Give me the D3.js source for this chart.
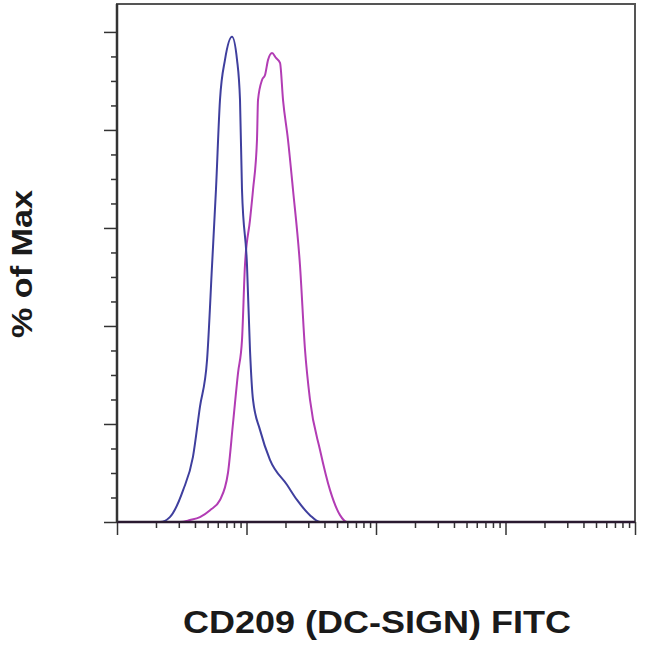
<!DOCTYPE html>
<html>
<head>
<meta charset="utf-8">
<script src="https://cdn.jsdelivr.net/npm/d3@7"></script>
<style>
  body { margin: 0; background: #fff; }
  svg { display: block; font-family: "Liberation Sans", Arial, sans-serif; }
</style>
</head>
<body>
<script>
// isotype control (blue) and CD209 stain (magenta), FITC intensity vs % of max
const isoIntensity = [10, 18, 21.5, 25.6, 32.4, 38.6, 43.7, 49.6, 54.2, 58.1, 62.4, 68.2, 77.3, 84.5, 89.1, 92.3, 100.9, 106.4, 112.3, 127.1, 151.8, 205.4, 245.5, 309, 369.6, 482, 100000];
const isoPct       = [0, 0, 0, 1.0, 6.5, 13.3, 23.5, 33.1, 52.4, 67.8, 86.1, 94.3, 99, 94.3, 86.1, 67.8, 52.4, 35.1, 24.9, 18.8, 12.7, 7.6, 4.5, 1.4, 0, 0, 0];

const stainIntensity = [10, 30.6, 36.6, 43.7, 52.3, 62.4, 71.9, 78.7, 86, 92.3, 97.3, 106.4, 112.3, 120.5, 122.7, 131.8, 139, 146.7, 157.4, 169, 181.5, 191.5, 209.1, 228.6, 258.8, 283.1, 309.4, 369.6, 441.6, 527.5, 597, 751, 100000];
const stainPct       = [0, 0, 0.4, 1.0, 2.4, 4.5, 10, 20.2, 30.4, 37.1, 52.4, 61.6, 67.8, 78, 86.1, 90.2, 91.2, 94.3, 95.7, 94.7, 93.7, 86.1, 78, 67.8, 52.4, 35.1, 24.9, 14.7, 6.5, 1.4, 0, 0, 0];

const xMajor = [10, 100, 1000, 10000, 100000];
const yMajor = [0, 20, 40, 60, 80, 100];

const xLabel = "CD209 (DC-SIGN) FITC";
const yLabel = "% of Max";

const W = 650, H = 650;
const plotL = 117, plotR = 635, plotT = 4, plotB = 522;

const svg = d3.select("body").append("svg").attr("width", W).attr("height", H);

const x = d3.scaleLog().domain([10, 100000]).range([plotL, plotR]);
const y = d3.scaleLinear().domain([0, 105.7]).range([plotB, plotT]);

// frame
svg.append("rect")
	.attr("x", plotL).attr("y", plotT)
	.attr("width", plotR - plotL).attr("height", plotB - plotT)
	.attr("fill", "none").attr("stroke", "#555").attr("stroke-width", 2);

// x axis: minor + major ticks
const xMinor = x.ticks().filter((t) => !xMajor.includes(t));
svg.append("g")
	.attr("transform", "translate(0," + plotB + ")")
	.call(d3.axisBottom(x).tickValues(xMinor).tickSize(6).tickFormat(""))
	.call((g) => g.select(".domain").remove());
svg.append("g")
	.attr("transform", "translate(0," + plotB + ")")
	.call(d3.axisBottom(x).tickValues(xMajor).tickSize(13).tickFormat(""))
	.call((g) => g.select(".domain").remove());

// y axis
const yMinor = d3.range(0, 101, 5).filter((t) => !yMajor.includes(t));
svg.append("g")
	.attr("transform", "translate(" + plotL + ",0)")
	.call(d3.axisLeft(y).tickValues(yMinor).tickSize(6).tickFormat(""))
	.call((g) => g.select(".domain").remove());
svg.append("g")
	.attr("transform", "translate(" + plotL + ",0)")
	.call(d3.axisLeft(y).tickValues(yMajor).tickSize(13).tickFormat(""))
	.call((g) => g.select(".domain").remove());

svg.selectAll(".tick line").attr("stroke", "#333").attr("stroke-width", 1.5);

const line = d3.line()
	.x((d) => x(d[0]))
	.y((d) => y(d[1]))
	.curve(d3.curveMonotoneX);

svg.append("clipPath").attr("id", "plot")
	.append("rect").attr("x", plotL).attr("y", plotT)
	.attr("width", plotR - plotL).attr("height", plotB - plotT + 2);

const plot = svg.append("g").attr("clip-path", "url(#plot)");

plot.append("path")
	.datum(d3.zip(stainIntensity, stainPct))
	.attr("d", line)
	.attr("fill", "none")
	.attr("stroke", "#b23cb4")
	.attr("stroke-width", 2);

plot.append("path")
	.datum(d3.zip(isoIntensity, isoPct))
	.attr("d", line)
	.attr("fill", "none")
	.attr("stroke", "#3f3f9e")
	.attr("stroke-width", 2);

// axis baselines
svg.append("line")
	.attr("x1", plotL).attr("x2", plotR).attr("y1", plotB).attr("y2", plotB)
	.attr("stroke", "#2a1a30").attr("stroke-width", 2.5);
svg.append("line")
	.attr("x1", plotL).attr("x2", plotL).attr("y1", plotT).attr("y2", plotB)
	.attr("stroke", "#333").attr("stroke-width", 2.5);

// labels
svg.append("text")
	.attr("transform", "translate(32,264) rotate(-90)")
	.attr("text-anchor", "middle")
	.attr("font-size", 30)
	.attr("font-weight", "bold")
	.attr("textLength", 148)
	.attr("lengthAdjust", "spacingAndGlyphs")
	.attr("fill", "#1a1a1a")
	.text(yLabel);

svg.append("text")
	.attr("x", 377)
	.attr("y", 633)
	.attr("text-anchor", "middle")
	.attr("font-size", 31)
	.attr("font-weight", "bold")
	.attr("textLength", 388)
	.attr("lengthAdjust", "spacingAndGlyphs")
	.attr("fill", "#1a1a1a")
	.text(xLabel);
</script>
</body>
</html>
